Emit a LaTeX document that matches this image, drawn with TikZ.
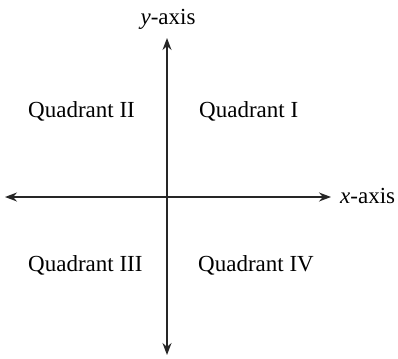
\documentclass[tikz,border=0pt]{standalone}
\usepackage{fontspec}
\setmainfont{Liberation Serif}
\usetikzlibrary{arrows.meta}
\tikzset{
  axisline/.style={line width=1.5pt, black!85, {Stealth[length=12pt,width=9pt]}-{Stealth[length=12pt,width=9pt]}},
  lbl/.style={inner sep=0pt, anchor=base west, font=\fontsize{23}{27}\selectfont},
  axlbl/.style={inner sep=0pt, font=\fontsize{23}{27}\selectfont}
}
\begin{document}
\begin{tikzpicture}[x=1pt,y=-1pt]
\useasboundingbox (0,0) rectangle (398,358);
\coordinate (ytop) at (167,38);
\coordinate (ybot) at (167,355);
\coordinate (xleft) at (5,197);
\coordinate (xright) at (331,197);
\draw[axisline] (xleft) -- (xright);
\draw[axisline] (ybot) -- (ytop);
\node[axlbl, anchor=base] (ylab) at (168,25) {\textit{y}-axis};
\node[axlbl, anchor=base west] (xlab) at (340,203) {\textit{x}-axis};
\node[lbl] (q2) at (28,118) {Quadrant II};
\node[lbl] (q1) at (199,118) {Quadrant I};
\node[lbl] (q3) at (28,271) {Quadrant III};
\node[lbl] (q4) at (198,271) {Quadrant IV};
\end{tikzpicture}
\end{document}
